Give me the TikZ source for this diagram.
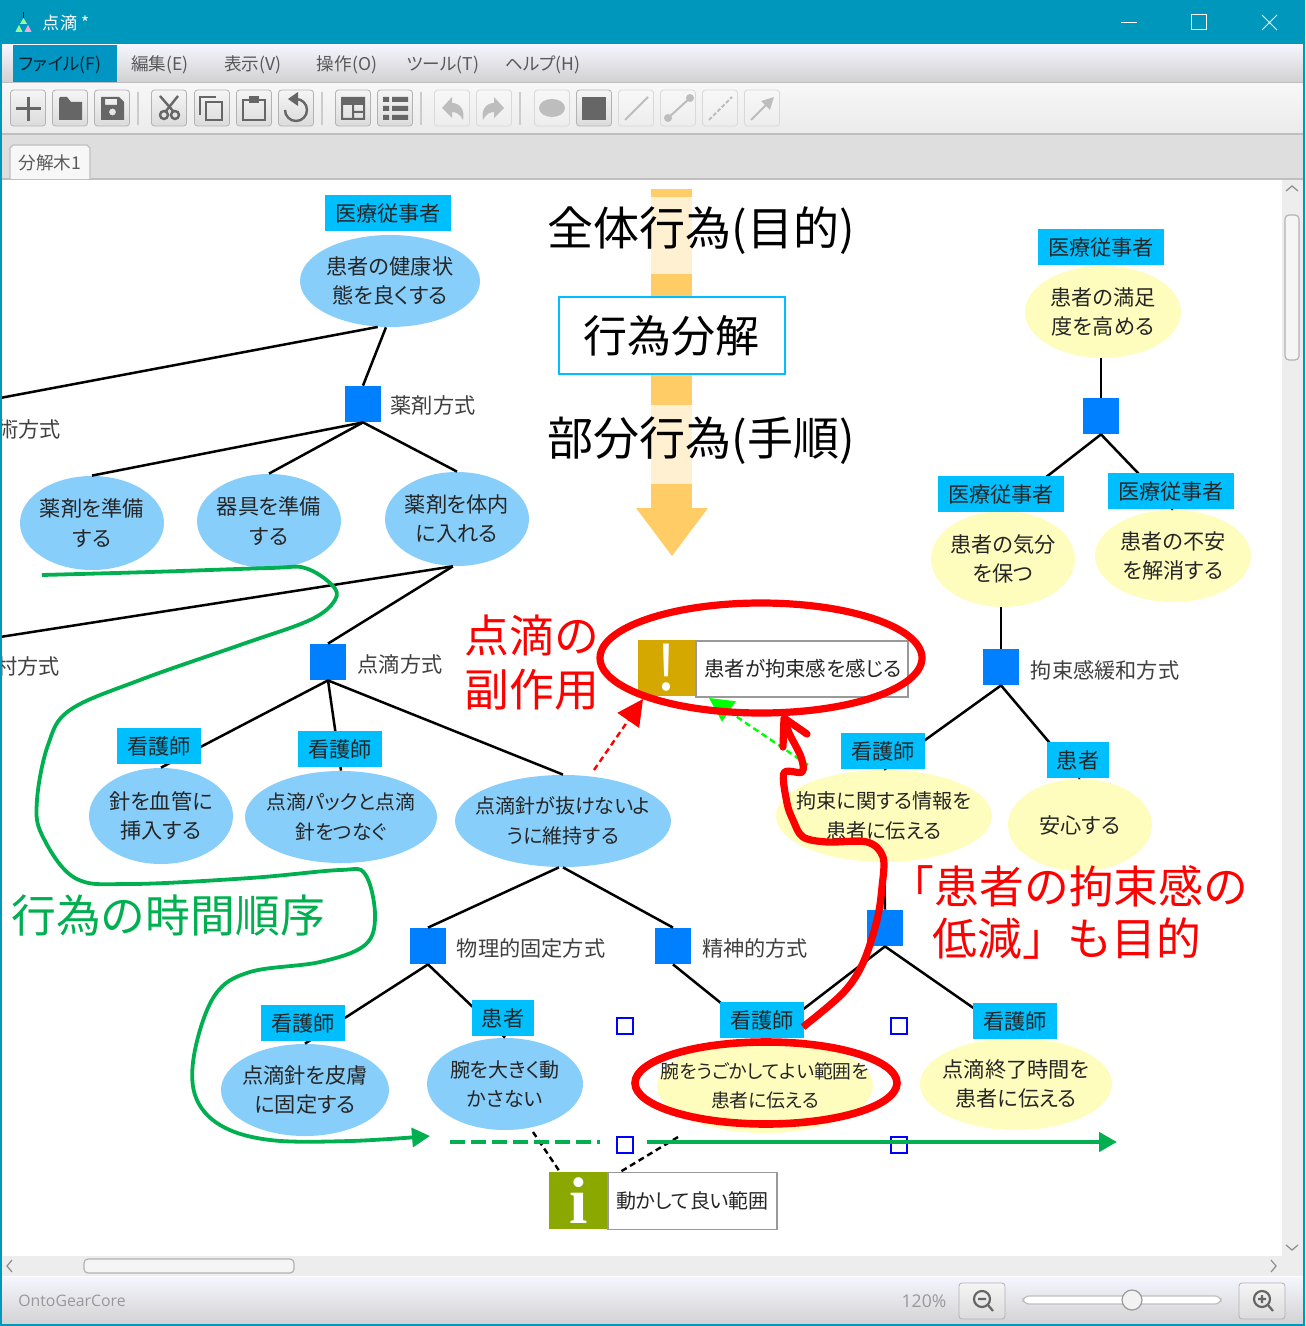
\documentclass[tikz,border=0pt]{standalone}
\usepackage{fontspec}
\setmainfont{Noto Sans CJK JP}
\newfontfamily\palfont[RawFeature=+palt]{Noto Sans CJK JP}
\newfontfamily\uifont{Open Sans}
\newfontfamily\serifont{Liberation Serif}
\usetikzlibrary{shapes.geometric,arrows.meta}
\definecolor{titlebar}{HTML}{0097BD}
\definecolor{menublue}{HTML}{0095C2}
\definecolor{goalblue}{HTML}{87CEFA}
\definecolor{goalyellow}{HTML}{FFFDBD}
\definecolor{actorcyan}{HTML}{00BFFF}
\definecolor{methodblue}{HTML}{0080FF}
\definecolor{arroworange}{HTML}{FFCC66}
\definecolor{arrowlight}{HTML}{FFF0D2}
\definecolor{linegreen}{HTML}{00B050}
\definecolor{linkgreen}{HTML}{00FF00}
\definecolor{warngold}{HTML}{D4A800}
\definecolor{infoolive}{HTML}{8AA800}
\definecolor{icondark}{HTML}{666666}
\definecolor{iconlight}{HTML}{BDBDBD}

\begin{document}
\begin{tikzpicture}[
    x=0.5pt, y=-0.5pt,
    base/.style={font=\palfont\fontsize{10.6}{14.8}\selectfont, text=black!85, align=center},
    small/.style={font=\palfont\fontsize{#1}{14.8}\selectfont},
    bluegoal/.style 2 args={base, ellipse, fill=goalblue, minimum width=#1*0.5pt, minimum height=#2*0.5pt, inner xsep=-25pt, inner ysep=-12pt},
    yellowgoal/.style 2 args={base, ellipse, fill=goalyellow, minimum width=#1*0.5pt, minimum height=#2*0.5pt, inner xsep=-25pt, inner ysep=-12pt},
    actor/.style={base, rectangle, fill=actorcyan, minimum height=18pt, inner xsep=5pt, inner ysep=0pt},
    method/.style={rectangle, fill=methodblue, minimum size=18pt, inner sep=0pt},
    methodtext/.style={base, text=black!75, inner sep=0pt},
    tree/.style={line width=1.25pt, black},
    bigtext/.style={font=\fontsize{23}{27}\selectfont, inner sep=0pt},
    handle/.style={rectangle, draw=blue, line width=0.9pt, fill=none, minimum size=8pt, inner sep=0pt},
    toolbtn/.style={rectangle, rounded corners=1.5pt, draw=black!30, top color=black!4, bottom color=black!14, minimum width=17.5pt, minimum height=18pt, inner sep=0pt},
    offbtn/.style={toolbtn, draw=black!15, top color=black!3, bottom color=black!7},
    menutext/.style={font=\palfont\fontsize{8.8}{10}\selectfont, text=black!65, inner sep=0pt},
    icon/.style={icondark, line width=1.2pt},
    officon/.style={iconlight, line width=1pt},
    dotted link/.style={dash pattern=on 3pt off 2pt, line width=1.2pt}
]
\useasboundingbox (0,0) rectangle (1305,1326);

% Window
\fill[white] (0,0) rectangle (1305,1326);
\fill[titlebar] (0,0) rectangle (1305,45);
\shade[top color=black!2!blue!4!white, bottom color=black!18] (0,45) rectangle (1305,82);
\fill[menublue] (13,45) rectangle (117,82);
\shade[top color=black!3, bottom color=black!8] (0,83) rectangle (1305,134);
\fill[black!13] (0,135) rectangle (1305,179);
\draw[black!25, line width=0.6pt] (0,82.5) -- (1305,82.5) (0,134) -- (1305,134) (0,179) -- (1305,179);
\filldraw[fill=black!3, draw=black!25, line width=0.6pt] (10,179) -- (10,148) -- (13,145) -- (87,145) -- (90,148) -- (90,179);

% Title bar
\node[text=white, inner sep=0pt, font=\fontsize{8.6}{10}\selectfont] (apptitle) at (66,23) {点滴 *};
\fill[blue!70!black] (23,12) rectangle (24,19);
\fill[green!40] (23.5,18) -- (20,24) -- (27,24) -- cycle;
\fill[green!40] (19,25) -- (15.5,32) -- (22.5,32) -- cycle;
\fill[magenta!35] (28,25) -- (24.5,32) -- (31.5,32) -- cycle;
\draw[white, line width=0.5pt] (1121,23) -- (1137,23);
\draw[white, line width=0.5pt] (1191,15) rectangle (1206,30);
\draw[white, line width=0.5pt] (1262,15) -- (1277,30) (1277,15) -- (1262,30);

% Menu
\node[menutext, text=black!75!menublue] (mfile) at (60,65) {ファイル(F)};
\node[menutext] (medit) at (160,65) {編集(E)};
\node[menutext] (mview) at (253,65) {表示(V)};
\node[menutext] (mop) at (347,65) {操作(O)};
\node[menutext] (mtool) at (443,65) {ツール(T)};
\node[menutext] (mhelp) at (543,65) {ヘルプ(H)};
\node[menutext] (tabname) at (50,163) {分解木1};

% Toolbar
\foreach \bx in {28,70,112,169,212,254,296,353,395,594}
    \node[toolbtn] (b\bx) at (\bx,108) {};
\foreach \bx in {452,494,552,636,678,720,762}
    \node[offbtn] (b\bx) at (\bx,108) {};
\foreach \sx in {138,322,421,520}
    \draw[black!20, line width=0.6pt] (\sx,92) -- (\sx,125);
\draw[icon, line width=1.5pt] (16,108.5) -- (41,108.5) (28.5,97) -- (28.5,121);
\fill[icondark] (59,99) -- (59,120) -- (82,120) -- (82,102) -- (71,102) -- (67,97) -- (60,97) -- cycle;
\fill[icondark, even odd rule] (101,97) -- (119,97) -- (124,102) -- (124,120) -- (101,120) -- cycle (105,99) rectangle (117,105) (112.5,112) circle[radius=3.5];
\draw[icon, line width=1.2pt] (164,115) circle[radius=4] (175,115) circle[radius=4] (166,111) -- (178,96) (173,111) -- (160,96);
\draw[icon, line width=1.1pt] (200,115) -- (200,97) -- (216,97) (206,102) rectangle (222,120);
\draw[icon, line width=1.1pt] (243,100) rectangle (265,120);
\fill[icondark] (249,96) rectangle (259,103);
\draw[icon] (296,99) arc[start angle=-90, end angle=180, radius=11];
\fill[icondark] (298,92) -- (298,106) -- (288,99) -- cycle;
\fill[icondark, even odd rule] (341,97) rectangle (365,120) (343,105) rectangle (352,118) (354,105) rectangle (363,111) (354,113) rectangle (363,118);
\fill[icondark] (383,97) rectangle (389,102) (392,97) rectangle (408,102) (383,106) rectangle (389,111) (392,106) rectangle (408,111) (383,115) rectangle (389,120) (392,115) rectangle (408,120);
\fill[iconlight] (442,108) -- (452,97) -- (452,103) .. controls (460,103) and (465,110) .. (463,120) .. controls (460,114) and (456,112) .. (452,112) -- (452,118) -- cycle;
\fill[iconlight] (504,108) -- (494,97) -- (494,103) .. controls (486,103) and (481,110) .. (483,120) .. controls (486,114) and (490,112) .. (494,112) -- (494,118) -- cycle;
\fill[iconlight] (552,108) ellipse[x radius=13, y radius=9];
\fill[icondark] (582,97) rectangle (606,120);
\draw[officon] (625,120) -- (648,97);
\draw[officon] (668,118) -- (690,98);
\fill[iconlight] (668,118) circle[radius=4] (690,98) circle[radius=4];
\draw[officon, dashed, dash pattern=on 2pt off 1pt] (709,120) -- (732,97);
\draw[officon, -{Triangle[length=6pt,width=6pt]}] (751,120) -- (774,97);

% Scroll bars and status bar
\fill[black!7] (1282,180) rectangle (1305,1256);
\fill[black!7] (0,1256) rectangle (1305,1276);
\draw[black!45, line width=0.6pt] (1286,191) -- (1292,186) -- (1298,191) (1286,1245) -- (1292,1250) -- (1298,1245) (12,1260) -- (7,1266) -- (12,1272) (1271,1260) -- (1276,1266) -- (1271,1272);
\filldraw[draw=black!30, fill=black!4, line width=0.6pt, rounded corners=2pt] (1285,215) rectangle (1299,360);
\filldraw[draw=black!30, fill=black!4, line width=0.6pt, rounded corners=2pt] (84,1259) rectangle (294,1273);
\shade[top color=black!2!blue!4!white, bottom color=black!18] (0,1277) rectangle (1305,1326);
\node[text=black!40, inner sep=0pt, font=\uifont\fontsize{7.9}{10}\selectfont] (appname) at (72,1301) {OntoGearCore};
\node[text=black!40, inner sep=0pt, font=\uifont\fontsize{8.8}{10}\selectfont] (zoomtext) at (924,1301) {120\%};
\node[toolbtn, minimum width=23pt] (zoomout) at (982,1301) {};
\node[toolbtn, minimum width=23pt] (zoomin) at (1262,1301) {};
\draw[icon, line width=1.1pt] (982,1299) circle[radius=8] (988,1305) -- (993,1311) (978,1299) -- (986,1299);
\draw[icon, line width=1.1pt] (1262,1299) circle[radius=8] (1268,1305) -- (1273,1311) (1258,1299) -- (1266,1299) (1262,1295) -- (1262,1303);
\filldraw[draw=black!25, fill=white, line width=0.6pt, rounded corners=3pt] (1023,1296) rectangle (1221,1304);
\filldraw[draw=black!40, fill=black!5, line width=0.6pt] (1132,1300) circle[radius=10];

\begin{scope}
\clip (2,180) rectangle (1282,1256);

% Big arrow
\fill[arroworange] (651,189) rectangle (692,508);
\fill[arroworange] (636,508) -- (708,508) -- (672,556) -- cycle;
\fill[arrowlight] (651,197) rectangle (692,274);
\fill[arrowlight] (651,405) rectangle (692,484);
\node[bigtext] (whole) at (701,231) {全体行為(目的)};
\node[bigtext] (part) at (701,441) {部分行為(手順)};
\node[bigtext, rectangle, draw=actorcyan, fill=white, line width=1pt, minimum width=113pt, minimum height=38pt, font=\fontsize{22}{27}\selectfont] (split) at (671.5,335.5) {行為分解};

% Goal nodes
\node[bluegoal={180}{92}] (g1) at (390,281) {患者の健康状\\態を良くする};
\node[bluegoal={144}{94}] (g2) at (92,523) {薬剤を準備\\する};
\node[bluegoal={144}{94}] (g3) at (269,521) {器具を準備\\する};
\node[bluegoal={144}{94}] (g4) at (457,519) {薬剤を体内\\に入れる};
\node[bluegoal={144}{96}] (g5) at (161,816) {針を血管に\\挿入する};
\node[bluegoal={192}{92}, small=9.9] (g6) at (341,817) {点滴パックと点滴\\針をつなぐ};
\node[bluegoal={216}{92}, small=10] (g7) at (563,821) {点滴針が抜けないよ\\うに維持する};
\node[bluegoal={168}{92}] (g8) at (305,1090) {点滴針を皮膚\\に固定する};
\node[bluegoal={156}{92}, small=10] (g9) at (505,1084) {腕を大きく動\\かさない};
\node[yellowgoal={216}{94}, small=9.4] (g10) at (765,1086) {腕をうごかしてよい範囲を\\患者に伝える};
\node[yellowgoal={192}{92}] (g11) at (1016,1084) {点滴終了時間を\\患者に伝える};
\node[yellowgoal={216}{92}, small=10.1] (g12) at (884,816) {拘束に関する情報を\\患者に伝える};
\node[yellowgoal={144}{92}] (g13) at (1080,825) {安心する};
\node[yellowgoal={144}{96}] (g14) at (1003,559) {患者の気分\\を保つ};
\node[yellowgoal={156}{92}] (g15) at (1173,556) {患者の不安\\を解消する};
\node[yellowgoal={156}{92}] (g16) at (1103,312) {患者の満足\\度を高める};

% Method nodes
\node[method] (m1) at (363,404) {};
\node[method] (m2) at (328,662) {};
\node[method] (m3) at (428,946) {};
\node[method] (m4) at (673,946) {};
\node[method] (m5) at (885,928) {};
\node[method] (m6) at (1001,667) {};
\node[method] (m7) at (1101,416) {};
\node[methodtext] (t1) at (433,405) {薬剤方式};
\node[methodtext] (t2) at (400,664) {点滴方式};
\node[methodtext] (t3) at (531,948) {物理的固定方式};
\node[methodtext] (t4) at (755,948) {精神的方式};
\node[methodtext] (t5) at (1105,670) {拘束感緩和方式};
\node[methodtext] (t6) at (29,429) {術方式};
\node[methodtext] (t7) at (28,666) {村方式};
\coordinate (cutA) at (0,398);
\coordinate (cutB) at (0,637);

% Tree lines
\draw[tree] (g1.265) -- (m1.north);
\draw[tree] (g1.255) -- (cutA);
\draw[tree] (m1.south) -- (g2.north);
\draw[tree] (m1.south) -- (g3.north);
\draw[tree] (m1.south) -- (g4.north);
\draw[tree] (g4.265) -- (m2.north);
\draw[tree] (g4.265) -- (cutB);
\draw[tree] (m2.south) -- (g5.north);
\draw[tree] (m2.south) -- (g6.north);
\draw[tree] (m2.south) -- (g7.north);
\draw[tree] (g7.265) -- (m3.north);
\draw[tree] (g7.south) -- (m4.north);
\draw[tree] (m3.south) -- (g8.north);
\draw[tree] (m3.south) -- (g9.north);
\draw[tree] (m4.south) -- (g10.north);
\draw[tree] (g12.south) -- (m5.north);
\draw[tree] (m5.south) -- (g10.north);
\draw[tree] (m5.south) -- (g11.north);
\draw[tree] (m6.south) -- (g12.north);
\draw[tree] (m6.south) -- (g13.north);
\draw[tree] (m6.north |- g14.south) -- (m6.north);
\draw[tree] (m7.south) -- (g14.north);
\draw[tree] (m7.south) -- (g15.north);
\draw[tree] (m7.north |- g16.south) -- (m7.north);

% Actor labels
\node[actor] (a1) at (388,213) {医療従事者};
\node[actor] (a2) at (159,746) {看護師};
\node[actor] (a3) at (340,749) {看護師};
\node[actor] (a4) at (303,1023) {看護師};
\node[actor] (a5) at (503,1018) {患者};
\node[actor] (a6) at (762,1020) {看護師};
\node[actor] (a7) at (1015,1021) {看護師};
\node[actor] (a8) at (883,751) {看護師};
\node[actor] (a9) at (1078,760) {患者};
\node[actor] (a10) at (1001,494) {医療従事者};
\node[actor] (a11) at (1171,491) {医療従事者};
\node[actor] (a12) at (1101,247) {医療従事者};

% Notes
\node[rectangle, fill=warngold, minimum width=29pt, minimum height=28pt, inner sep=0pt, text=white, font=\fontsize{31}{31}\selectfont] (warnicon) at (667,668) {!};
\node[base, rectangle, draw=black!40, fill=white, line width=0.7pt, minimum width=106pt, minimum height=28pt, inner sep=0pt, font=\palfont\fontsize{10.2}{12}\selectfont] (warn) at (802,669) {\hspace{1pt}患者が拘束感を感じる};
\node[rectangle, fill=infoolive, minimum width=29.5pt, minimum height=28.5pt, inner sep=0pt, text=white, font=\serifont\bfseries\fontsize{33}{33}\selectfont] (infoicon) at (578.5,1200.5) {i};
\node[base, rectangle, draw=black!40, fill=white, line width=0.7pt, minimum width=84.5pt, minimum height=28.5pt, inner sep=0pt, small=10] (info) at (692.5,1201) {動かして良い範囲};

% Handles
\node[handle] (h1) at (625,1026) {};
\node[handle] (h2) at (899,1026) {};
\node[handle] (h3) at (625,1145) {};
\node[handle] (h4) at (899,1145) {};

% Arrows
\coordinate (redstart) at (594,770);
\coordinate (redtip) at (643,699);
\coordinate (greenstart) at (808,765);
\coordinate (greentip) at (709,698);
\coordinate (dotA) at (533,1132);
\coordinate (dotB) at (678,1137);
\coordinate (dotC) at (560,1172);
\coordinate (dotD) at (620,1172);
\draw[dotted link, red, -{Triangle[length=13pt,width=13pt]}] (redstart) -- (redtip);
\draw[dotted link, linkgreen, -{Triangle[length=12pt,width=12pt]}] (greenstart) -- (greentip);
\draw[dotted link, black] (dotA) -- (dotC);
\draw[dotted link, black] (dotB) -- (dotD);

% Time order
\coordinate (lineA) at (450,1142);
\coordinate (lineB) at (600,1142);
\coordinate (lineC) at (647,1142);
\coordinate (lineD) at (1117,1142);
\draw[linegreen, line width=2.4pt, dash pattern=on 7.5pt off 3pt] (lineA) -- (lineB);
\draw[linegreen, line width=2.4pt, -{Triangle[length=9pt,width=9.5pt]}] (lineC) -- (lineD);
\draw[linegreen, line width=1.9pt, -{Triangle[length=9pt,width=9.5pt]}] plot[smooth, tension=0.6] coordinates {(42,575) (150,572) (270,568) (305,568) (332,585) (335,600) (310,620) (240,645) (140,680) (70,710) (48,745) (37,800) (42,835) (75,878) (130,884) (250,878) (340,870) (365,874) (375,915) (365,945) (320,962) (250,972) (215,995) (195,1050) (195,1095) (220,1125) (270,1140) (350,1141) (430,1136)};

% Red marks
\node[ellipse, draw=red, line width=3.6pt, minimum width=161pt, minimum height=55pt, inner sep=0pt] (ringA) at (761,658) {};
\node[ellipse, draw=red, line width=3.8pt, minimum width=131pt, minimum height=41pt, inner sep=0pt] (ringB) at (766,1083) {};
\draw[red, line width=3.6pt, line join=round] plot[smooth, tension=0.55] coordinates {(803,1027) (843,993) (863,963) (877,920) (882,887) (883,857) (867,842) (827,842) (803,837) (793,820) (787,803) (784,773) (802,772) (801,757) (790,735) (784,720)};
\draw[red, line width=3.6pt, line join=round, line cap=round] (783,747) -- (784,718) -- (807,734);
\node[bigtext, text=red, align=center, font=\fontsize{22.4}{27}\selectfont] (sideeffect) at (532,663) {点滴の\\副作用};
\node[bigtext, text=red, font=\fontsize{22.4}{27}\selectfont] (alsogoalA) at (1069,886) {「患者の拘束感の};
\node[bigtext, text=red, font=\fontsize{22.4}{27}\selectfont] (alsogoalB) at (1067,939) {低減」も目的};
\node[bigtext, text=linegreen, font=\fontsize{22.4}{27}\selectfont] (timeorder) at (168,916) {行為の時間順序};
\end{scope}

% Frame
\draw[titlebar, line width=0.8pt] (1,0) rectangle (1304,1325);
\end{tikzpicture}
\end{document}
